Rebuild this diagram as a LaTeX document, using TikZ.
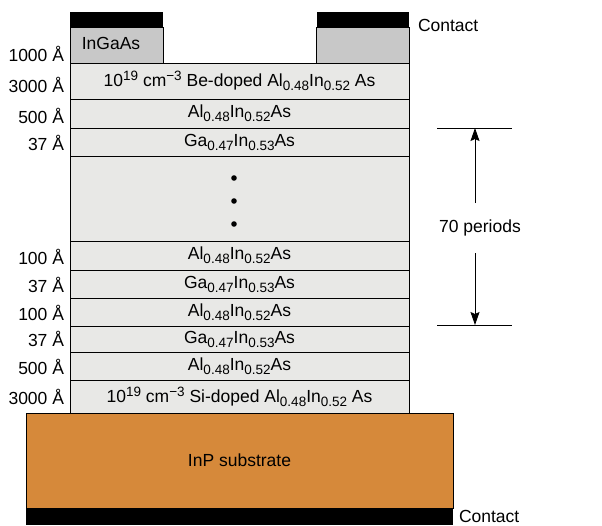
\documentclass[tikz,border=0pt]{standalone}
\usepackage{fontspec}
\setmainfont{Liberation Sans}
\usetikzlibrary{arrows.meta}

\definecolor{layergray}{HTML}{E8E8E6}
\definecolor{mesagray}{HTML}{C8C8C8}
\definecolor{inporange}{HTML}{D6893A}

\newcommand{\lowidx}[1]{\raisebox{-4pt}{\fontsize{13.5}{14}\selectfont #1}}
\newcommand{\highidx}[1]{\raisebox{6pt}{\fontsize{13.5}{14}\selectfont #1}}
\newcommand{\alinas}{Al\lowidx{0.48}In\lowidx{0.52}As}
\newcommand{\gainas}{Ga\lowidx{0.47}In\lowidx{0.53}As}

\begin{document}
\begin{tikzpicture}[
        x=1pt, y=-1pt,
        every node/.style={font=\fontsize{17.5}{20}\selectfont, inner sep=0pt, outer sep=0pt},
        layer/.style={draw, line width=0.8pt, fill=layergray, minimum width=339pt},
        mesa/.style={draw, line width=0.8pt, fill=mesagray, minimum width=93pt, minimum height=36pt},
        contact/.style={fill=black, minimum height=15pt},
        thick/.style={anchor=east},
        edge/.style={-{Stealth[length=13pt, width=9pt, inset=2pt]}, line width=0.9pt}
    ]
        \useasboundingbox (0,0) rectangle (602,525);

        % Substrate and bottom contact
        \node[draw, line width=0.8pt, fill=inporange, minimum width=427pt, minimum height=95pt] (sub) at (239.5,460.5) {InP substrate};
        \node[contact, minimum width=427pt, minimum height=17pt] (cb) at (239.5,516.5) {};

        % Layer stack
        \node[layer, minimum height=33pt] (si) at (239.5,396.5) {10\highidx{19} cm\highidx{−3} Si-doped Al\lowidx{0.48}In\lowidx{0.52} As};
        \node[layer, minimum height=28pt] (al4) at (239.5,366) {\alinas};
        \node[layer, minimum height=26pt] (ga3) at (239.5,339) {\gainas};
        \node[layer, minimum height=28pt] (al3) at (239.5,312) {\alinas};
        \node[layer, minimum height=28pt] (ga2) at (239.5,284) {\gainas};
        \node[layer, minimum height=29pt] (al2) at (239.5,255.5) {\alinas};
        \node[layer, minimum height=85pt] (mid) at (239.5,198.5) {};
        \node[layer, minimum height=28pt] (ga1) at (239.5,142) {\gainas};
        \node[layer, minimum height=29pt] (al1) at (239.5,113.5) {\alinas};
        \node[layer, minimum height=36pt] (be) at (239.5,81) {10\highidx{19} cm\highidx{−3} Be-doped Al\lowidx{0.48}In\lowidx{0.52} As};

        % Dots
        \foreach \y in {178,201,224}
            \fill (234,\y) circle (2.8pt);

        % Mesas and top contacts
        \node[mesa] (mesaL) at (116.5,45) {};
        \node[mesa] (mesaR) at (363,45) {};
        \node[contact, minimum width=93pt] (ctL) at (116.5,19.5) {};
        \node[contact, minimum width=92pt] (ctR) at (363,19.5) {};
        \node (ingaas) at (111,43) {InGaAs};

        % Contact labels
        \node[anchor=west] (lbltop) at (418,25) {Contact};
        \node[anchor=west] (lblbot) at (459,516) {Contact};

        % Thickness labels
        \node[thick] (t1) at (64,54) {1000 Å};
        \node[thick] (t2) at (64,85) {3000 Å};
        \node[thick] (t3) at (64,116) {500 Å};
        \node[thick] (t4) at (64,143) {37 Å};
        \node[thick] (t5) at (64,257) {100 Å};
        \node[thick] (t6) at (64,285) {37 Å};
        \node[thick] (t7) at (64,313) {100 Å};
        \node[thick] (t8) at (64,339) {37 Å};
        \node[thick] (t9) at (64,367) {500 Å};
        \node[thick] (t10) at (64,397) {3000 Å};

        % Period marker
        \coordinate (pTL) at (437,128);
        \coordinate (pTR) at (512,128);
        \coordinate (pBL) at (437,325);
        \coordinate (pBR) at (512,325);
        \coordinate (pT) at (475,128);
        \coordinate (pB) at (475,325);
        \coordinate (aT) at (475,203);
        \coordinate (aB) at (475,253);
        \node (per) at (480,228) {70 periods};
        \draw[line width=0.8pt] (pTL) -- (pTR);
        \draw[line width=0.8pt] (pBL) -- (pBR);
        \draw[edge] (aT) -- (pT);
        \draw[edge] (aB) -- (pB);

    \end{tikzpicture}
\end{document}
